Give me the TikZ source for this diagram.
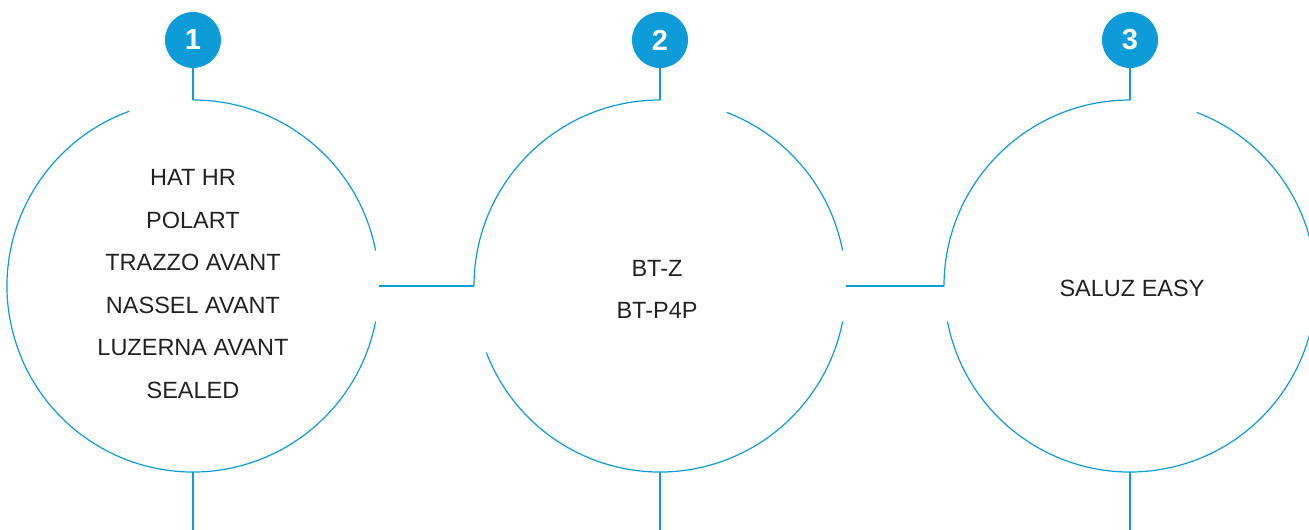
\documentclass[tikz,border=0pt]{standalone}
\usepackage{fontspec}
\setmainfont{Liberation Sans}
\definecolor{bleu}{RGB}{14,156,216}
\definecolor{texte}{RGB}{34,34,34}
\begin{document}
\begin{tikzpicture}[x=1pt,y=1pt,
	trait/.style={bleu,line width=1.2pt},
	pastille/.style={circle,fill=bleu,minimum size=56pt,inner sep=0pt,text=white,font=\fontsize{29}{29}\selectfont\bfseries},
	nom/.style={text=texte,font=\fontsize{23.5}{27}\selectfont,anchor=base,inner sep=0pt}]
	\def \R {186}%rayon des cercles
	\def \yc {244}%hauteur des centres
	\useasboundingbox (0,0) rectangle (1309,530);
	% pastilles et traits verticaux
	\foreach \x [count=\i] in {193,660,1130}{
		\coordinate (c\i) at (\x,\yc);
		\coordinate (h\i) at (\x,{\yc+\R});
		\coordinate (s\i) at (\x,{\yc-\R});
		\coordinate (f\i) at (\x,0);
		\coordinate (g\i) at ({\x-\R},\yc);
		\coordinate (d\i) at ({\x+\R},\yc);
		\node[pastille] (b\i) at (\x,490) {\i};
		\draw[trait] (b\i) -- (h\i);
		\draw[trait] (s\i) -- (f\i);
		}
	% cercles
	\draw[trait] ([shift={(110:\R pt)}]c1) arc[start angle=110,end angle=349,radius=\R pt];
	\draw[trait] ([shift={(11:\R pt)}]c1) arc[start angle=11,end angle=90,radius=\R pt];
	\draw[trait] ([shift={(90:\R pt)}]c2) arc[start angle=90,end angle=180,radius=\R pt];
	\draw[trait] ([shift={(11:\R pt)}]c2) arc[start angle=11,end angle=69,radius=\R pt];
	\draw[trait] ([shift={(201:\R pt)}]c2) arc[start angle=201,end angle=349,radius=\R pt];
	\draw[trait] ([shift={(90:\R pt)}]c3) arc[start angle=90,end angle=180,radius=\R pt];
	\draw[trait] ([shift={(191:\R pt)}]c3) arc[start angle=191,end angle=429,radius=\R pt];
	% liaisons
	\draw[trait] (d1) -- (g2);
	\draw[trait] (d2) -- (g3);
	% textes
	\foreach \t [count=\k] in {HAT HR,POLART,TRAZZO AVANT,NASSEL AVANT,LUZERNA AVANT,SEALED}
		\node[nom] (p\k) at (193,{344-42.5*(\k-1)}) {\t};
	\node[nom] (q1) at (657,253.3) {BT-Z};
	\node[nom] (q2) at (657,211) {BT-P4P};
	\node[nom] (r1) at (1132,233) {SALUZ EASY};
\end{tikzpicture}
\end{document}
